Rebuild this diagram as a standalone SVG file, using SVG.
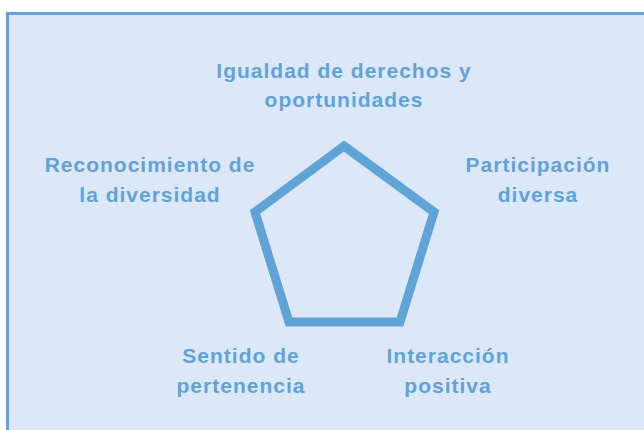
<svg xmlns="http://www.w3.org/2000/svg" width="644" height="430" viewBox="0 0 644 430">
<style>
.lbl{font-family:"Liberation Sans",Arial,sans-serif;font-weight:bold;font-size:21px;fill:#61a3d9;text-anchor:middle;letter-spacing:1px}
</style>
<rect x="0" y="0" width="644" height="430" fill="#ffffff"/>
<rect x="7.5" y="13.5" width="660" height="440" fill="#dce8f7" stroke="#62a3dc" stroke-width="3"/>
<g id="connectors"></g>
<g id="pentagon">
<polygon points="344,146 434,212 400,322 289,322 255,212" fill="none" stroke="#60a3d7" stroke-width="9" stroke-linejoin="miter"/>
</g>
<g id="n-igualdad"><text class="lbl" x="344" y="78">Igualdad de derechos y</text><text class="lbl" x="344" y="107">oportunidades</text></g>
<g id="n-reconocimiento"><text class="lbl" x="150" y="172">Reconocimiento de</text><text class="lbl" x="150" y="202">la diversidad</text></g>
<g id="n-participacion"><text class="lbl" x="538" y="172">Participación</text><text class="lbl" x="538" y="202">diversa</text></g>
<g id="n-sentido"><text class="lbl" x="241" y="363">Sentido de</text><text class="lbl" x="241" y="393">pertenencia</text></g>
<g id="n-interaccion"><text class="lbl" x="448" y="363">Interacción</text><text class="lbl" x="448" y="393">positiva</text></g>
</svg>
